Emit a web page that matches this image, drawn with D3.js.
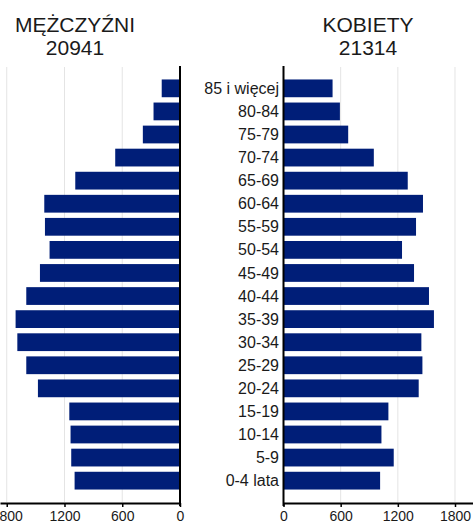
<!DOCTYPE html>
<html>
<head>
<meta charset="utf-8">
<script src="https://cdn.jsdelivr.net/npm/d3@7"></script>
<style>
  body { margin: 0; background: #fff; }
  text { font-family: "Liberation Sans", Arial, sans-serif; }
</style>
</head>
<body>
<div id="chart"></div>
<script>
// chart size
const width = 473,
  height = 525;

// age groups, top to bottom
const ageGroups = ["85 i więcej", "80-84", "75-79", "70-74", "65-69", "60-64", "55-59", "50-54",
  "45-49", "40-44", "35-39", "30-34", "25-29", "20-24", "15-19", "10-14", "5-9", "0-4 lata"];

// values
const men = [190, 275, 386, 673, 1088, 1410, 1403, 1355, 1455, 1597, 1708, 1690, 1597, 1476, 1150, 1137, 1130, 1095];
const women = [515, 592, 679, 948, 1304, 1464, 1391, 1244, 1370, 1527, 1579, 1447, 1458, 1419, 1101, 1028, 1157, 1014];

const titles = ["MĘŻCZYŹNI", "KOBIETY"];
const totals = ["20941", "21314"];
const tickVals = [0, 600, 1200, 1800];

const barColor = "#001e78";
const plotTop = 67, plotBottom = 502;

const svg = d3.select("#chart")
  .append("svg")
  .attr("width", width)
  .attr("height", height);

// scales
const yScale = d3.scaleBand()
  .domain(ageGroups)
  .range([plotTop, plotBottom])
  .paddingInner(0.23)
  .paddingOuter(0.54);

const xLeft = d3.scaleLinear()
  .domain([0, 1870])
  .range([180, 0]);

const xRight = d3.scaleLinear()
  .domain([0, 1989])
  .range([283.5, 473]);

// gridlines
[xLeft, xRight].forEach(sc => {
  svg.append("g")
    .selectAll("line")
    .data(tickVals.slice(1))
    .join("line")
    .attr("x1", d => sc(d))
    .attr("x2", d => sc(d))
    .attr("y1", plotTop)
    .attr("y2", plotBottom)
    .attr("stroke", "#e4e4e4")
    .attr("stroke-width", 1);
});

// bars
svg.append("g")
  .selectAll("rect")
  .data(men)
  .join("rect")
  .attr("x", d => xLeft(d))
  .attr("y", (d, i) => yScale(ageGroups[i]))
  .attr("width", d => xLeft(0) - xLeft(d))
  .attr("height", yScale.bandwidth())
  .attr("fill", barColor);

svg.append("g")
  .selectAll("rect")
  .data(women)
  .join("rect")
  .attr("x", xRight(0))
  .attr("y", (d, i) => yScale(ageGroups[i]))
  .attr("width", d => xRight(d) - xRight(0))
  .attr("height", yScale.bandwidth())
  .attr("fill", barColor);

// age labels in the middle
svg.append("g")
  .selectAll("text")
  .data(ageGroups)
  .join("text")
  .attr("x", 279)
  .attr("y", d => yScale(d) + yScale.bandwidth() / 2)
  .attr("dy", "0.35em")
  .attr("text-anchor", "end")
  .attr("font-size", 16)
  .attr("fill", "#1a1a1a")
  .text(d => d);

// bottom axes
[xLeft, xRight].forEach(sc => {
  const g = svg.append("g")
    .attr("transform", `translate(0, ${plotBottom + 1})`)
    .call(d3.axisBottom(sc).tickValues(tickVals).tickFormat(d3.format("d")).tickSize(4).tickSizeOuter(0));
  g.select(".domain").attr("stroke", "#000").attr("stroke-width", 2);
  g.selectAll(".tick line").attr("stroke", "#000").attr("stroke-width", 1.5);
  g.selectAll(".tick text")
    .attr("font-size", 14)
    .attr("fill", "#1a1a1a")
    .attr("y", 8)
    .style("font-family", "'Liberation Sans', Arial, sans-serif");
});

// zero lines
[xLeft(0), xRight(0)].forEach(x => {
  svg.append("line")
    .attr("x1", x)
    .attr("x2", x)
    .attr("y1", 66)
    .attr("y2", 506)
    .attr("stroke", "#000")
    .attr("stroke-width", 2);
});

// titles
const centers = [75, 368];
titles.forEach((t, i) => {
  svg.append("text")
    .attr("x", centers[i])
    .attr("y", 32)
    .attr("text-anchor", "middle")
    .attr("font-size", 21)
    .attr("fill", "#1a1a1a")
    .text(t);
  svg.append("text")
    .attr("x", centers[i])
    .attr("y", 55)
    .attr("text-anchor", "middle")
    .attr("font-size", 21)
    .attr("fill", "#1a1a1a")
    .text(totals[i]);
});
</script>
</body>
</html>
